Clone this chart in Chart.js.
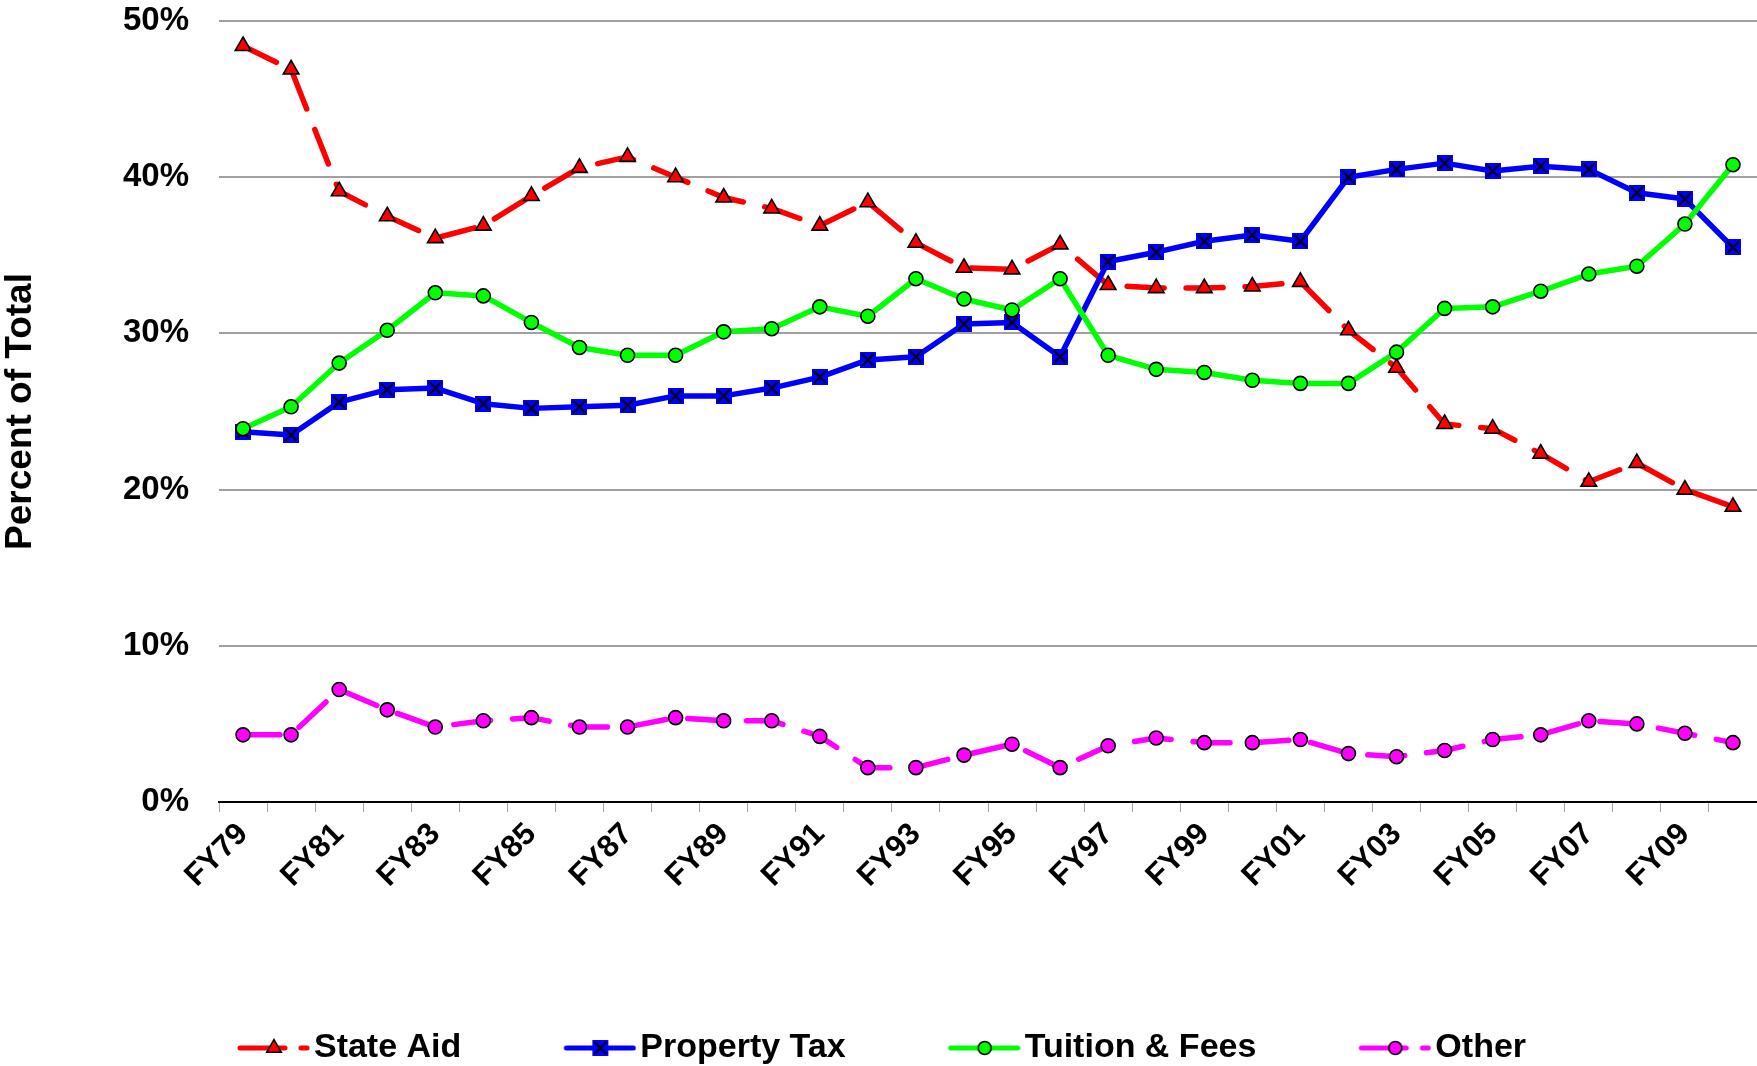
<!DOCTYPE html>
<html>
<head>
<meta charset="utf-8">
<script src="https://cdn.jsdelivr.net/npm/chart.js@4/dist/chart.umd.min.js"></script>
<style>
html, body { margin: 0; padding: 0; background: #ffffff; overflow: hidden; }
#wrap { position: relative; width: 1757px; height: 1075px; }
</style>
</head>
<body>
<div id="wrap"><canvas id="c"></canvas></div>
<script>
const categories = ['FY79','FY80','FY81','FY82','FY83','FY84','FY85','FY86','FY87','FY88','FY89','FY90','FY91','FY92','FY93','FY94','FY95','FY96','FY97','FY98','FY99','FY00','FY01','FY02','FY03','FY04','FY05','FY06','FY07','FY08','FY09','FY10'];
const shownTickLabels = ['FY79','FY81','FY83','FY85','FY87','FY89','FY91','FY93','FY95','FY97','FY99','FY01','FY03','FY05','FY07','FY09'];
const yTickValues = [0, 10, 20, 30, 40, 50];

const seriesNames = ['State Aid', 'Property Tax', 'Tuition & Fees', 'Other'];
const stateAid    = [48.4, 46.9, 39.1, 37.5, 36.1, 36.9, 38.8, 40.6, 41.3, 40.0, 38.7, 38.0, 36.9, 38.4, 35.8, 34.2, 34.1, 35.7, 33.1, 32.9, 32.9, 33.0, 33.3, 30.2, 27.8, 24.2, 23.9, 22.3, 20.5, 21.7, 20.0, 18.9];
const propertyTax = [23.7, 23.5, 25.6, 26.4, 26.5, 25.5, 25.2, 25.3, 25.4, 26.0, 26.0, 26.5, 27.2, 28.3, 28.5, 30.6, 30.7, 28.5, 34.6, 35.2, 35.9, 36.3, 35.9, 40.0, 40.5, 40.9, 40.4, 40.7, 40.5, 39.0, 38.6, 35.5];
const tuitionFees = [23.9, 25.3, 28.1, 30.2, 32.6, 32.4, 30.7, 29.1, 28.6, 28.6, 30.1, 30.3, 31.7, 31.1, 33.5, 32.2, 31.5, 33.5, 28.6, 27.7, 27.5, 27.0, 26.8, 26.8, 28.8, 31.6, 31.7, 32.7, 33.8, 34.3, 37.0, 40.8];
const other       = [4.3, 4.3, 7.2, 5.9, 4.8, 5.2, 5.4, 4.8, 4.8, 5.4, 5.2, 5.2, 4.2, 2.2, 2.2, 3.0, 3.7, 2.2, 3.6, 4.1, 3.8, 3.8, 4.0, 3.1, 2.9, 3.3, 4.0, 4.3, 5.2, 5.0, 4.4, 3.8];

const FONT = '"Liberation Sans", Arial, Helvetica, sans-serif';
const RED = '#FF0000', BLUE = '#0000FF', GREEN = '#00FF00', MAGENTA = '#FF00FF';

// Marker image: blue square with a black X
function makeSquareX(size) {
  const c = document.createElement('canvas');
  c.width = size; c.height = size;
  const g = c.getContext('2d');
  g.fillStyle = BLUE;
  g.fillRect(0, 0, size, size);
  g.strokeStyle = '#000';
  g.lineWidth = 2;
  g.beginPath();
  g.moveTo(2, 2); g.lineTo(size - 2, size - 2);
  g.moveTo(size - 2, 2); g.lineTo(2, size - 2);
  g.stroke();
  return c;
}
const squareX = makeSquareX(16);

// Legend icons: line segment + marker. Canvas 92 wide, icon drawn in x = 20..92
function makeLegendIcon(color, dashed, marker) {
  const c = document.createElement('canvas');
  c.width = 92; c.height = 24;
  const g = c.getContext('2d');
  const cy = 12, x0 = 20, x1 = 92, mx = 56;
  g.strokeStyle = color; g.lineWidth = 5; g.lineCap = 'round';
  g.beginPath();
  if (dashed) {
    g.moveTo(x0 + 2, cy); g.lineTo(x0 + 47, cy);
    g.moveTo(x0 + 63, cy); g.lineTo(x1 - 3, cy);
  } else {
    g.moveTo(x0 + 2, cy); g.lineTo(x1 - 3, cy);
  }
  g.stroke();
  g.lineWidth = 1.5; g.strokeStyle = '#000';
  if (marker === 'triangle') {
    const r = 8.5;
    g.fillStyle = color;
    g.beginPath();
    g.moveTo(mx, cy - r);
    g.lineTo(mx + r * Math.sin(2 * Math.PI / 3), cy - r * Math.cos(2 * Math.PI / 3));
    g.lineTo(mx + r * Math.sin(4 * Math.PI / 3), cy - r * Math.cos(4 * Math.PI / 3));
    g.closePath(); g.fill(); g.stroke();
  } else if (marker === 'squareX') {
    g.drawImage(squareX, mx - 8, cy - 8);
  } else {
    g.fillStyle = color;
    g.beginPath(); g.arc(mx, cy, 6.5, 0, Math.PI * 2); g.fill(); g.stroke();
  }
  return c;
}
const legendIcons = [
  makeLegendIcon(RED, true, 'triangle'),
  makeLegendIcon(BLUE, false, 'squareX'),
  makeLegendIcon(GREEN, false, 'circle'),
  makeLegendIcon(MAGENTA, true, 'circle')
];

const data = {
  labels: categories,
  datasets: [
    { label: seriesNames[0], data: stateAid, borderColor: RED, borderWidth: 5.5, borderDash: [37, 22], borderCapStyle: 'round', borderJoinStyle: 'round',
      pointStyle: 'triangle', pointRadius: 9, pointBackgroundColor: RED, pointBorderColor: '#000', pointBorderWidth: 1.6, tension: 0, fill: false, order: 4 },
    { label: seriesNames[1], data: propertyTax, borderColor: BLUE, borderWidth: 5.5, borderJoinStyle: 'round',
      pointStyle: squareX, pointRadius: 8, pointBackgroundColor: BLUE, pointBorderColor: BLUE, tension: 0, fill: false, order: 3 },
    { label: seriesNames[2], data: tuitionFees, borderColor: GREEN, borderWidth: 5.5, borderJoinStyle: 'round',
      pointStyle: 'circle', pointRadius: 7, pointBackgroundColor: GREEN, pointBorderColor: '#000', pointBorderWidth: 1.6, tension: 0, fill: false, order: 2 },
    { label: seriesNames[3], data: other, borderColor: MAGENTA, borderWidth: 5.5, borderDash: [37, 22], borderCapStyle: 'round', borderJoinStyle: 'round',
      pointStyle: 'circle', pointRadius: 7, pointBackgroundColor: MAGENTA, pointBorderColor: '#000', pointBorderWidth: 1.6, tension: 0, fill: false, order: 1 }
  ]
};

new Chart(document.getElementById('c'), {
  type: 'line',
  data: data,
  options: {
    responsive: true,
    maintainAspectRatio: false,
    animation: false,
    events: [],
    layout: { autoPadding: false, padding: { top: 21, left: 0, right: 0, bottom: 0 } },
    plugins: {
      tooltip: { enabled: false },
      legend: {
        position: 'bottom',
        align: 'center',
        labels: {
          usePointStyle: true,
          pointStyleWidth: 66,
          padding: 96,
          color: '#000',
          font: { family: FONT, size: 34, weight: 'bold' },
          generateLabels: (chart) => chart.data.datasets.map((ds, i) => ({
            text: ds.label,
            pointStyle: legendIcons[i],
            fillStyle: ds.borderColor,
            strokeStyle: ds.borderColor,
            lineWidth: 0,
            hidden: false,
            datasetIndex: i,
            fontColor: '#000'
          }))
        }
      }
    },
    scales: {
      x: {
        type: 'category',
        offset: true,
        afterFit: (s) => { s.height = 133; s.paddingLeft = 0; s.paddingRight = 0; },
        grid: { offset: true, drawOnChartArea: false, drawTicks: true, tickLength: 10, color: '#a6a6a6', lineWidth: 1 },
        border: { display: true, color: '#000', width: 2 },
        ticks: {
          autoSkip: false,
          maxRotation: 45,
          minRotation: 45,
          padding: 4,
          color: '#000',
          font: { family: FONT, size: 31, weight: 'bold' },
          callback: function (value, index) {
            const lab = categories[index];
            return shownTickLabels.includes(lab) ? lab : '';
          }
        }
      },
      y: {
        min: yTickValues[0],
        max: yTickValues[yTickValues.length - 1],
        afterFit: (s) => { s.width = 219; s.paddingTop = 0; s.paddingBottom = 0; },
        grid: { color: '#a0a0a0', lineWidth: 2, drawTicks: false },
        border: { display: false },
        ticks: {
          stepSize: 10,
          padding: 30,
          color: '#000',
          font: { family: FONT, size: 33, weight: 'bold' },
          callback: (v) => v + '%'
        },
        title: {
          display: true,
          text: 'Percent of Total',
          color: '#000',
          padding: { top: 2, bottom: 0 },
          font: { family: FONT, size: 37, weight: 'bold', lineHeight: 1 }
        }
      }
    }
  }
});
</script>
</body>
</html>
